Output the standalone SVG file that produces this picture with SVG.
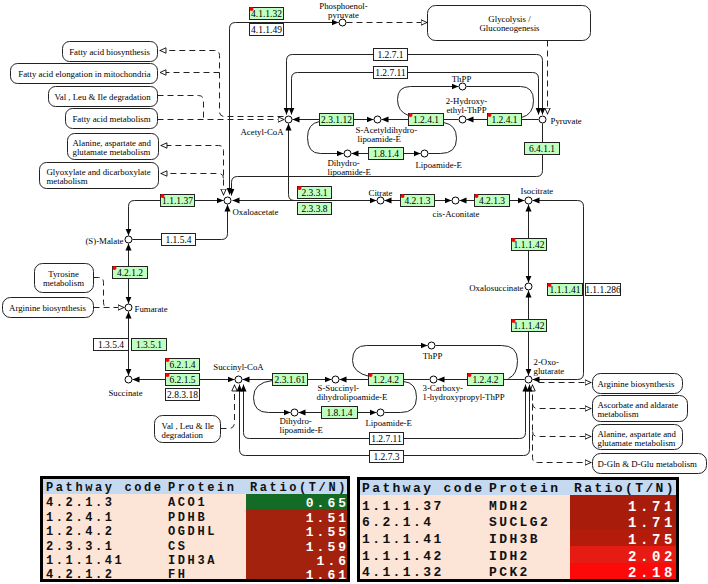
<svg xmlns="http://www.w3.org/2000/svg" width="708" height="584" viewBox="0 0 708 584">
<defs>
<style>
.ln{fill:none;stroke:#222;stroke-width:1}
.ds{fill:none;stroke:#222;stroke-width:1;stroke-dasharray:6 4}
.cp{fill:#fff;stroke:#000;stroke-width:1}
.eg{fill:#bfffbf;stroke:#222;stroke-width:1}
.ew{fill:#fff;stroke:#222;stroke-width:1}
.mp{fill:#fff;stroke:#222;stroke-width:1}
.et{font-family:"Liberation Serif",serif;font-size:9.5px;text-anchor:middle;fill:#000}
.lb{font-family:"Liberation Serif",serif;font-size:8.8px;fill:#000}
.lm{font-family:"Liberation Serif",serif;font-size:8.8px;fill:#000;text-anchor:middle}
.le{font-family:"Liberation Serif",serif;font-size:8.8px;fill:#000;text-anchor:end}
.rd{fill:#f00}
.t1{font-family:"Liberation Mono",monospace;font-weight:bold;font-size:12px;letter-spacing:2.6px;fill:#111}
.v1{font-family:"Liberation Mono",monospace;font-weight:bold;font-size:13px;letter-spacing:3px;fill:#fff;text-anchor:end}
.t2{font-family:"Liberation Mono",monospace;font-weight:bold;font-size:13px;letter-spacing:2.4px;fill:#111}
.v2{font-family:"Liberation Mono",monospace;font-weight:bold;font-size:14px;letter-spacing:3.6px;fill:#fff;text-anchor:end}
</style>
<marker id="ar" viewBox="0 0 8 8" refX="8" refY="4" markerWidth="7" markerHeight="7" markerUnits="userSpaceOnUse" orient="auto-start-reverse"><path d="M0,0.5 L8,4 L0,7.5z" fill="#000"/></marker>
<marker id="op" viewBox="0 0 8 8" refX="8" refY="4" markerWidth="7" markerHeight="7" markerUnits="userSpaceOnUse" orient="auto-start-reverse"><path d="M0.6,0.9 L7.4,4 L0.6,7.1z" fill="#fff" stroke="#000" stroke-width="1"/></marker>
</defs>
<rect width="708" height="584" fill="#fff"/>
<g transform="translate(0.5,0.5)">
<g id="connectors">
<path class="ln" d="M229,194 V28 Q229,22 235,22 H338" marker-start="url(#ar)" marker-end="url(#ar)"/>
<path class="ds" d="M346,22 H427" marker-end="url(#op)"/>
<path class="ds" d="M547,40 V114" marker-end="url(#op)"/>
<path class="ln" d="M286,114 V60 Q286,54 292,54 H536 Q542,54 542,60 V114" marker-start="url(#ar)" marker-end="url(#ar)"/>
<path class="ln" d="M291,114 V78 Q291,72 297,72 H532 Q538,72 538,78 V114" marker-start="url(#ar)" marker-end="url(#ar)"/>
<path class="ds" d="M283,116 H224 Q219,116 219,111 V55 Q219,50 214,50 H159" marker-end="url(#op)"/>
<path class="ds" d="M219,72 H159" marker-end="url(#op)"/>
<path class="ds" d="M157,95 H198 Q203,95 203,100 V119"/>
<path class="ds" d="M157,119 H284" marker-end="url(#op)"/>
<path class="ds" d="M223,195 V150 Q223,145 218,145 H160" marker-start="url(#op)" marker-end="url(#op)"/>
<path class="ds" d="M223,178 Q223,173 218,173 H160" marker-end="url(#op)"/>
<path class="ln" d="M292,119 H373" marker-start="url(#ar)" marker-end="url(#ar)"/>
<path class="ln" d="M458,119 H381" marker-end="url(#ar)"/>
<path class="ln" d="M538,119 H466" marker-end="url(#ar)"/>
<path class="ln" d="M408,115 Q397,111 397,99 Q397,86 410,86 H458" marker-end="url(#ar)"/>
<path class="ln" d="M466,86 H520 Q533,86 533,100 Q533,114 521,117"/>
<path class="ln" d="M319,121 Q307,123 307,137 Q307,153 320,153 H343" marker-end="url(#ar)"/>
<path class="ln" d="M351,153 H420" marker-start="url(#ar)" marker-end="url(#ar)"/>
<path class="ln" d="M428,153 H440 Q456,153 456,138 Q456,124 443,122"/>
<path class="ln" d="M542,123 V170 Q542,176 536,176 H237 Q231,176 231,182 V195" marker-end="url(#ar)"/>
<path class="ln" d="M232,200 H376" marker-start="url(#ar)" marker-end="url(#ar)"/>
<path class="ln" d="M288,123 V194 Q288,200 294,200" marker-start="url(#ar)"/>
<path class="ln" d="M384,200 H451" marker-start="url(#ar)" marker-end="url(#ar)"/>
<path class="ln" d="M459,200 H524" marker-start="url(#ar)" marker-end="url(#ar)"/>
<path class="ln" d="M532,200 H577 Q583,200 583,206 V373 Q583,379 577,379 H532" marker-start="url(#ar)" marker-end="url(#ar)"/>
<path class="ln" d="M528,204 V282" marker-start="url(#ar)" marker-end="url(#ar)"/>
<path class="ln" d="M528,290 V375" marker-start="url(#ar)" marker-end="url(#ar)"/>
<path class="ds" d="M538,382 H591" marker-end="url(#op)"/>
<path class="ds" d="M532,384 V457 Q532,462 537,462 H591" marker-start="url(#op)" marker-end="url(#op)"/>
<path class="ds" d="M532,403 Q532,408 537,408 H591" marker-end="url(#op)"/>
<path class="ds" d="M532,431 Q532,436 537,436 H591" marker-end="url(#op)"/>
<path class="ln" d="M524,379 H437" marker-end="url(#ar)"/>
<path class="ln" d="M429,379 H339" marker-end="url(#ar)"/>
<path class="ln" d="M242,379 H331" marker-start="url(#ar)" marker-end="url(#ar)"/>
<path class="ln" d="M369,376 Q352,372 352,360 Q352,345 366,345 H427" marker-end="url(#ar)"/>
<path class="ln" d="M435,345 H501 Q517,345 517,360 Q517,374 508,378"/>
<path class="ln" d="M272,380 Q253,382 253,397 Q253,412 268,412 H290" marker-end="url(#ar)"/>
<path class="ln" d="M298,412 H376" marker-start="url(#ar)" marker-end="url(#ar)"/>
<path class="ln" d="M384,412 H400 Q416,412 416,397 Q416,382 403,381"/>
<path class="ln" d="M132,379 H234" marker-start="url(#ar)" marker-end="url(#ar)"/>
<path class="ln" d="M128,311 V375" marker-start="url(#ar)" marker-end="url(#ar)"/>
<path class="ln" d="M128,243 V303" marker-start="url(#ar)" marker-end="url(#ar)"/>
<path class="ln" d="M128,235 V206 Q128,200 134,200 H223" marker-start="url(#ar)" marker-end="url(#ar)"/>
<path class="ln" d="M132,239 H221 Q227,239 227,233 V204" marker-end="url(#ar)"/>
<path class="ds" d="M93,307 H124" marker-end="url(#op)"/>
<path class="ds" d="M93,277 H98 Q103,277 103,282 V302 Q103,307 108,307"/>
<path class="ds" d="M220,428 H228 Q234,428 234,422 V384" marker-end="url(#op)"/>
<path class="ln" d="M243,384 V432 Q243,438 249,438 H519 Q525,438 525,432 V384" marker-start="url(#ar)" marker-end="url(#ar)"/>
<path class="ln" d="M239,384 V449 Q239,455 245,455 H523 Q529,455 529,449 V384" marker-start="url(#ar)" marker-end="url(#ar)"/>
</g>
<g id="maps">
<g id="m-glycolysis"><rect class="mp" x="427" y="5" width="163" height="35" rx="8"/><text class="lm" x="509" y="21">Glycolysis /</text><text class="lm" x="509" y="30">Gluconeogenesis</text></g>
<g id="m-fab"><rect class="mp" x="62" y="41" width="95" height="20" rx="7"/><text class="lm" x="109" y="54">Fatty acid biosynthesis</text></g>
<g id="m-fae"><rect class="mp" x="10" y="63" width="147" height="20" rx="7"/><text class="lm" x="84" y="76">Fatty acid elongation in mitochondria</text></g>
<g id="m-vli1"><rect class="mp" x="48" y="86" width="109" height="20" rx="7"/><text class="lm" x="102" y="99">Val , Leu &amp; Ile degradation</text></g>
<g id="m-fam"><rect class="mp" x="65" y="108" width="92" height="20" rx="7"/><text class="lm" x="111" y="121">Fatty acid metabolism</text></g>
<g id="m-ala1"><rect class="mp" x="67" y="133" width="91" height="26" rx="7"/><text class="lb" x="72" y="145">Alanine, aspartate and</text><text class="lb" x="72" y="154">glutamate metabolism</text></g>
<g id="m-gly"><rect class="mp" x="39" y="162" width="119" height="26" rx="7"/><text class="lb" x="46" y="174">Glyoxylate and dicarboxylate</text><text class="lb" x="46" y="183">metabolism</text></g>
<g id="m-tyr"><rect class="mp" x="34" y="263" width="59" height="29" rx="8"/><text class="lm" x="63" y="276">Tyrosine</text><text class="lm" x="63" y="285">metabolism</text></g>
<g id="m-arg1"><rect class="mp" x="2" y="297" width="91" height="20" rx="8"/><text class="lm" x="47" y="310">Arginine biosynthesis</text></g>
<g id="m-vli2"><rect class="mp" x="154" y="415" width="66" height="27" rx="8"/><text class="lb" x="161" y="428">Val , Leu &amp; Ile</text><text class="lb" x="161" y="437">degradation</text></g>
<g id="m-arg2"><rect class="mp" x="592" y="373" width="90" height="20" rx="8"/><text class="lb" x="597" y="386">Arginine biosynthesis</text></g>
<g id="m-asc"><rect class="mp" x="592" y="395" width="95" height="26" rx="8"/><text class="lb" x="597" y="407">Ascorbate and aldarate</text><text class="lb" x="597" y="416">metabolism</text></g>
<g id="m-ala2"><rect class="mp" x="592" y="424" width="90" height="25" rx="8"/><text class="lb" x="597" y="436">Alanine, aspartate and</text><text class="lb" x="597" y="445">glutamate metabolism</text></g>
<g id="m-dgln"><rect class="mp" x="592" y="453" width="114" height="20" rx="8"/><text class="lb" x="597" y="466">D-Gln &amp; D-Glu metabolism</text></g>
</g>
<g id="compounds">
<g id="c-pep"><circle class="cp" cx="342" cy="22" r="3.5"/><text class="lm" x="343" y="8">Phosphoenol-</text><text class="lm" x="343" y="17">pyruvate</text></g>
<g id="c-accoa"><circle class="cp" cx="288" cy="119" r="3.5"/><text class="le" x="283" y="134">Acetyl-CoA</text></g>
<g id="c-sacetyl"><circle class="cp" cx="377" cy="119" r="3.5"/><text class="lb" x="355" y="132">S-Acetyldihydro-</text><text class="lb" x="357" y="141">lipoamide-E</text></g>
<g id="c-thpp1"><circle class="cp" cx="462" cy="86" r="3.5"/><text class="lm" x="461" y="81">ThPP</text></g>
<g id="c-hetpp"><circle class="cp" cx="462" cy="119" r="3.5"/><text class="lm" x="466" y="103">2-Hydroxy-</text><text class="lm" x="466" y="112">ethyl-ThPP</text></g>
<g id="c-pyruvate"><circle class="cp" cx="542" cy="119" r="3.5"/><text class="lb" x="550" y="123">Pyruvate</text></g>
<g id="c-dhl1"><circle class="cp" cx="347" cy="153" r="3.5"/><text class="lb" x="327" y="165">Dihydro-</text><text class="lb" x="327" y="174">lipoamide-E</text></g>
<g id="c-lip1"><circle class="cp" cx="424" cy="153" r="3.5"/><text class="lb" x="415" y="167">Lipoamide-E</text></g>
<g id="c-oaa"><circle class="cp" cx="227" cy="200" r="3.5"/><text class="lb" x="232" y="214">Oxaloacetate</text></g>
<g id="c-citrate"><circle class="cp" cx="380" cy="200" r="3.5"/><text class="lm" x="380" y="195">Citrate</text></g>
<g id="c-cisacon"><circle class="cp" cx="455" cy="200" r="3.5"/><text class="lb" x="432" y="216">cis-Aconitate</text></g>
<g id="c-isocitrate"><circle class="cp" cx="528" cy="200" r="3.5"/><text class="lb" x="520" y="193">Isocitrate</text></g>
<g id="c-oxalosucc"><circle class="cp" cx="528" cy="286" r="3.5"/><text class="le" x="523" y="290">Oxalosuccinate</text></g>
<g id="c-2og"><circle class="cp" cx="528" cy="379" r="3.5"/><text class="lb" x="533" y="364">2-Oxo-</text><text class="lb" x="533" y="373">glutarate</text></g>
<g id="c-malate"><circle class="cp" cx="128" cy="239" r="3.5"/><text class="le" x="123" y="243">(S)-Malate</text></g>
<g id="c-fumarate"><circle class="cp" cx="128" cy="307" r="3.5"/><text class="lb" x="134" y="311">Fumarate</text></g>
<g id="c-succinate"><circle class="cp" cx="128" cy="379" r="3.5"/><text class="lm" x="125" y="395">Succinate</text></g>
<g id="c-succcoa"><circle class="cp" cx="238" cy="379" r="3.5"/><text class="lm" x="238" y="369">Succinyl-CoA</text></g>
<g id="c-ssucc"><circle class="cp" cx="335" cy="379" r="3.5"/><text class="lb" x="317" y="390">S-Succinyl-</text><text class="lb" x="316" y="399">dihydrolipoamide-E</text></g>
<g id="c-thpp2"><circle class="cp" cx="431" cy="345" r="3.5"/><text class="lm" x="432" y="358">ThPP</text></g>
<g id="c-3carboxy"><circle class="cp" cx="433" cy="379" r="3.5"/><text class="lb" x="422" y="390">3-Carboxy-</text><text class="lb" x="422" y="399">1-hydroxypropyl-ThPP</text></g>
<g id="c-dhl2"><circle class="cp" cx="294" cy="412" r="3.5"/><text class="lb" x="279" y="423">Dihydro-</text><text class="lb" x="279" y="432">lipoamide-E</text></g>
<g id="c-lip2"><circle class="cp" cx="380" cy="412" r="3.5"/><text class="lb" x="365" y="425">Lipoamide-E</text></g>
</g>
<g id="enzymes">
<g id="e-4.1.1.32"><rect class="eg" x="249" y="7" width="34" height="12"/><circle class="rd" cx="251" cy="8.5" r="2"/><text class="et" x="266" y="16.5">4.1.1.32</text></g>
<g id="e-4.1.1.49"><rect class="ew" x="249" y="23" width="34" height="12"/><text class="et" x="266" y="32.5">4.1.1.49</text></g>
<g id="e-1.2.7.1a"><rect class="ew" x="373" y="48" width="34" height="12"/><text class="et" x="390" y="57.5">1.2.7.1</text></g>
<g id="e-1.2.7.11a"><rect class="ew" x="373" y="66" width="34" height="12"/><text class="et" x="390" y="75.5">1.2.7.11</text></g>
<g id="e-2.3.1.12"><rect class="eg" x="319" y="113" width="34" height="12"/><text class="et" x="336" y="122.5">2.3.1.12</text></g>
<g id="e-1.2.4.1a"><rect class="eg" x="408" y="113" width="35" height="12"/><circle class="rd" cx="410" cy="114.5" r="2"/><text class="et" x="425.5" y="122.5">1.2.4.1</text></g>
<g id="e-1.2.4.1b"><rect class="eg" x="487" y="113" width="34" height="12"/><circle class="rd" cx="489" cy="114.5" r="2"/><text class="et" x="504" y="122.5">1.2.4.1</text></g>
<g id="e-1.8.1.4a"><rect class="eg" x="368" y="147" width="35" height="12"/><text class="et" x="385.5" y="156.5">1.8.1.4</text></g>
<g id="e-6.4.1.1"><rect class="eg" x="524" y="142" width="35" height="12"/><text class="et" x="541.5" y="151.5">6.4.1.1</text></g>
<g id="e-1.1.1.37"><rect class="eg" x="160" y="194" width="34" height="12"/><circle class="rd" cx="162" cy="195.5" r="2"/><text class="et" x="177" y="203.5">1.1.1.37</text></g>
<g id="e-2.3.3.1"><rect class="eg" x="297" y="186" width="34" height="12"/><circle class="rd" cx="299" cy="187.5" r="2"/><text class="et" x="314" y="195.5">2.3.3.1</text></g>
<g id="e-2.3.3.8"><rect class="eg" x="297" y="202" width="34" height="12"/><text class="et" x="314" y="211.5">2.3.3.8</text></g>
<g id="e-4.2.1.3a"><rect class="eg" x="400" y="194" width="34" height="12"/><circle class="rd" cx="402" cy="195.5" r="2"/><text class="et" x="417" y="203.5">4.2.1.3</text></g>
<g id="e-4.2.1.3b"><rect class="eg" x="474" y="194" width="35" height="12"/><circle class="rd" cx="476" cy="195.5" r="2"/><text class="et" x="491.5" y="203.5">4.2.1.3</text></g>
<g id="e-1.1.5.4"><rect class="ew" x="161" y="233" width="34" height="12"/><text class="et" x="178" y="242.5">1.1.5.4</text></g>
<g id="e-1.1.1.42a"><rect class="eg" x="511" y="238" width="35" height="12"/><circle class="rd" cx="513" cy="239.5" r="2"/><text class="et" x="528.5" y="247.5">1.1.1.42</text></g>
<g id="e-4.2.1.2"><rect class="eg" x="112" y="266" width="35" height="12"/><circle class="rd" cx="114" cy="267.5" r="2"/><text class="et" x="129.5" y="275.5">4.2.1.2</text></g>
<g id="e-1.1.1.41"><rect class="eg" x="547" y="283" width="35" height="12"/><circle class="rd" cx="549" cy="284.5" r="2"/><text class="et" x="564.5" y="292.5">1.1.1.41</text></g>
<g id="e-1.1.1.286"><rect class="ew" x="585" y="283" width="35" height="12"/><text class="et" x="602.5" y="292.5">1.1.1.286</text></g>
<g id="e-1.1.1.42b"><rect class="eg" x="511" y="319" width="35" height="12"/><circle class="rd" cx="513" cy="320.5" r="2"/><text class="et" x="528.5" y="328.5">1.1.1.42</text></g>
<g id="e-1.3.5.4"><rect class="ew" x="93" y="338" width="35" height="12"/><text class="et" x="110.5" y="347.5">1.3.5.4</text></g>
<g id="e-1.3.5.1"><rect class="eg" x="131" y="338" width="35" height="12"/><text class="et" x="148.5" y="347.5">1.3.5.1</text></g>
<g id="e-6.2.1.4"><rect class="eg" x="165" y="358" width="34" height="12"/><circle class="rd" cx="167" cy="359.5" r="2"/><text class="et" x="182" y="367.5">6.2.1.4</text></g>
<g id="e-6.2.1.5"><rect class="eg" x="165" y="373" width="34" height="12"/><circle class="rd" cx="167" cy="374.5" r="2"/><text class="et" x="182" y="382.5">6.2.1.5</text></g>
<g id="e-2.8.3.18"><rect class="ew" x="165" y="388" width="34" height="12"/><text class="et" x="182" y="397.5">2.8.3.18</text></g>
<g id="e-2.3.1.61"><rect class="eg" x="272" y="373" width="35" height="12"/><text class="et" x="289.5" y="382.5">2.3.1.61</text></g>
<g id="e-1.2.4.2a"><rect class="eg" x="368" y="373" width="35" height="12"/><circle class="rd" cx="370" cy="374.5" r="2"/><text class="et" x="385.5" y="382.5">1.2.4.2</text></g>
<g id="e-1.2.4.2b"><rect class="eg" x="467" y="373" width="36" height="12"/><circle class="rd" cx="469" cy="374.5" r="2"/><text class="et" x="485" y="382.5">1.2.4.2</text></g>
<g id="e-1.8.1.4b"><rect class="eg" x="321" y="406" width="36" height="12"/><text class="et" x="339" y="415.5">1.8.1.4</text></g>
<g id="e-1.2.7.11b"><rect class="ew" x="369" y="432" width="34" height="12"/><text class="et" x="386" y="441.5">1.2.7.11</text></g>
<g id="e-1.2.7.3"><rect class="ew" x="369" y="450" width="34" height="12"/><text class="et" x="386" y="459.5">1.2.7.3</text></g>
</g>
</g>
<g id="table1">
<rect x="40" y="476" width="310" height="106" fill="#fce4d6"/>
<rect x="40" y="476" width="310" height="18" fill="#c5d9f1"/>
<rect x="246" y="494" width="104" height="15" fill="#136b25"/>
<rect x="246" y="509" width="104" height="73" fill="#a3220e"/>
<rect x="41.5" y="477.5" width="307" height="103" fill="none" stroke="#000" stroke-width="3"/>
<text class="t1" x="46" y="491">Pathway code</text><text class="t1" x="168" y="491">Protein</text><text class="t1" x="250" y="491">Ratio(T/N)</text>
<text class="t1" x="46" y="506">4.2.1.3</text><text class="t1" x="168" y="506">ACO1</text><text class="v1" x="349" y="506.5">0.65</text>
<text class="t1" x="46" y="521">1.2.4.1</text><text class="t1" x="168" y="521">PDHB</text><text class="v1" x="349" y="521.5">1.51</text>
<text class="t1" x="46" y="535">1.2.4.2</text><text class="t1" x="168" y="535">OGDHL</text><text class="v1" x="349" y="535.5">1.55</text>
<text class="t1" x="46" y="550">2.3.3.1</text><text class="t1" x="168" y="550">CS</text><text class="v1" x="349" y="550.5">1.59</text>
<text class="t1" x="46" y="564">1.1.1.41</text><text class="t1" x="168" y="564">IDH3A</text><text class="v1" x="349" y="564.5">1.6</text>
<text class="t1" x="46" y="578">4.2.1.2</text><text class="t1" x="168" y="578">FH</text><text class="v1" x="349" y="578.5">1.61</text>
</g>
<g id="table2">
<rect x="357" y="477" width="322" height="105" fill="#fce4d6"/>
<rect x="357" y="477" width="322" height="18" fill="#c5d9f1"/>
<rect x="570" y="495" width="109" height="34" fill="#a81c0c"/>
<rect x="570" y="529" width="109" height="17" fill="#b51b0b"/>
<rect x="570" y="546" width="109" height="17" fill="#e61c14"/>
<rect x="570" y="563" width="109" height="19" fill="#fc0a0a"/>
<rect x="358.5" y="478.5" width="319" height="102" fill="none" stroke="#000" stroke-width="3"/>
<text class="t2" x="362" y="491.5">Pathway code</text><text class="t2" x="489" y="491.5">Protein</text><text class="t2" x="574" y="491.5">Ratio(T/N)</text>
<text class="t2" x="362" y="510">1.1.1.37</text><text class="t2" x="489" y="510">MDH2</text><text class="v2" x="676" y="510.5">1.71</text>
<text class="t2" x="362" y="526">6.2.1.4</text><text class="t2" x="489" y="526">SUCLG2</text><text class="v2" x="676" y="526.5">1.71</text>
<text class="t2" x="362" y="543">1.1.1.41</text><text class="t2" x="489" y="543">IDH3B</text><text class="v2" x="676" y="543.5">1.75</text>
<text class="t2" x="362" y="560">1.1.1.42</text><text class="t2" x="489" y="560">IDH2</text><text class="v2" x="676" y="560.5">2.02</text>
<text class="t2" x="362" y="576">4.1.1.32</text><text class="t2" x="489" y="576">PCK2</text><text class="v2" x="676" y="576.5">2.18</text>
</g>
</svg>
